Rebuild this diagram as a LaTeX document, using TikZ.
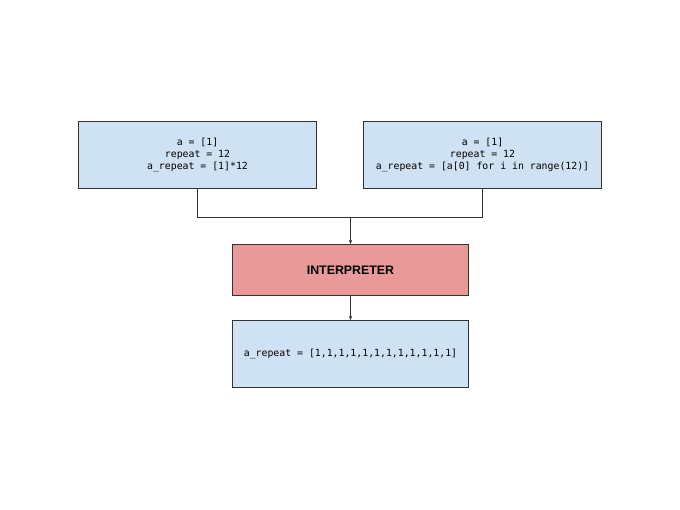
\documentclass[tikz,border=0pt]{standalone}
\usepackage{fontspec}
\setmainfont{Liberation Sans}
\setmonofont{DejaVu Sans Mono}
\usepackage{tikz}
\usetikzlibrary{positioning}
\usetikzlibrary{arrows.meta}
\definecolor{codeblue}{HTML}{CFE2F3}
\definecolor{interpred}{HTML}{EA9999}
\definecolor{edgegray}{HTML}{333333}

\begin{document}
\begin{tikzpicture}[x=0.025cm,y=-0.025cm,
  codebox/.style={shape=rectangle,draw=edgegray,fill=codeblue,line width=0.7pt,
    minimum width=5.925cm,minimum height=1.65cm,align=center,inner sep=0pt,
    font=\ttfamily\fontsize{7}{8.4}\selectfont},
  interpbox/.style={shape=rectangle,draw=edgegray,fill=interpred,line width=0.7pt,
    minimum width=5.9cm,minimum height=1.25cm,inner sep=0pt,
    font=\bfseries\fontsize{8.8}{10}\selectfont},
  link/.style={draw=edgegray,line width=0.7pt},
  arrowlink/.style={link,-{Latex[length=3pt,width=2.4pt]}}]
\useasboundingbox (0,0) rectangle (680,510);
\path
(197.5,155) node [codebox](mult) {a = [1]\\repeat = 12\\a\_repeat = [1]*12}
(482.5,155) node [codebox](comp) {a = [1]\\repeat = 12\\a\_repeat = [a[0] for i in range(12)]}
(350.5,270) node [interpbox](interp) {INTERPRETER}
(350.5,354) node [codebox,minimum width=5.9cm](result) {a\_repeat = [1,1,1,1,1,1,1,1,1,1,1,1]};
\coordinate (join) at (350.5,217.5);
\draw [link](mult.south) |- (join) -| (comp.south);
\draw [arrowlink](join) -- (interp.north);
\draw [arrowlink](interp.south) -- (result.north);

\end{tikzpicture}
\end{document}
